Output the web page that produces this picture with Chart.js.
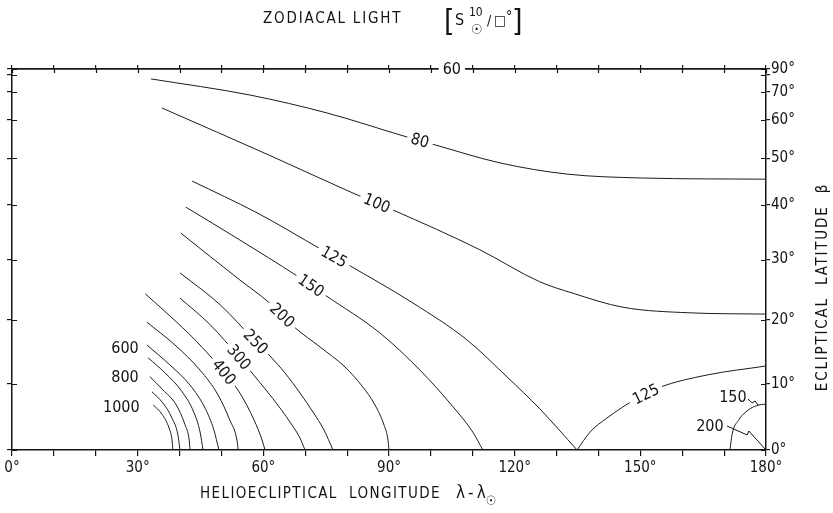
<!DOCTYPE html>
<html>
<head>
<meta charset="utf-8">
<title>Zodiacal light</title>
<style>
  html, body { margin: 0; padding: 0; background: #fff; }
  #wrap { width: 833px; height: 513px; }
</style>
<script src="https://cdn.jsdelivr.net/npm/chart.js@4/dist/chart.umd.min.js"></script>
</head>
<body>
<div id="wrap"><canvas id="c" width="833" height="513"></canvas></div>
<script>
// Isophotes of the zodiacal light, [longitude from sun (deg), ecliptic latitude (deg)]
const iso60   = [[0, 90], [180, 90]];
const iso80   = [[33.2, 76.9], [56.8, 68.7], [75.2, 62.2], [94.3, 55.24], [100.27, 53.43],
                 [116.5, 48.9], [132.5, 46.4], [150.6, 45.55], [180, 45.3]];
const iso100  = [[35.8, 63.85], [62.3, 50.3], [81.4, 42.4], [90.95, 39.05], [111.7, 31.7],
                 [126.0, 26.2], [133.9, 24.3], [145.9, 22.0], [161.9, 21.1], [180, 20.9]];
const iso125  = [[43.0, 44.9], [58.5, 38.5], [74.0, 31.7], [80.0, 29.2], [95.7, 22.7],
                 [108.6, 16.8], [118.2, 11.05], [126.0, 6.2], [134.9, 0]];
const iso125b = [[134.9, 0], [138.0, 2.7], [142.0, 4.8], [149.2, 7.8], [151.3, 8.45], [154.7, 9.5],
                 [165.9, 11.35], [180, 12.74]];
const iso150  = [[41.5, 39.6], [54.4, 33.45], [68.0, 27.2], [74.7, 24.0], [87.8, 17.9],
                 [97.4, 12.1], [105.3, 6.5], [110.0, 2.7], [112.4, 0]];
const iso150b = [[171.4, 0], [171.9, 2.36], [173.4, 4.46], [175.7, 6.0], [177.8, 6.69], [180, 6.93]];
const iso200  = [[40.3, 34.7], [54.4, 26.5], [61.2, 22.86], [67.6, 18.7], [73.53, 15.69], [79.5, 12.58],
                 [83.55, 9.67], [86.66, 6.78], [88.81, 3.76], [89.76, 1.5], [90.0, 0]];
const iso250  = [[40.1, 27.7], [49.7, 22.4], [58.2, 16.5], [61.59, 14.28], [65.17, 11.66], [68.75, 8.6],
                 [71.86, 5.72], [74.48, 3.01], [76.63, 0]];
const iso300  = [[40.1, 23.5], [47.3, 19.2], [54.2, 14.1], [57.29, 11.66], [60.64, 9.06], [63.98, 6.33],
                 [66.84, 3.76], [68.75, 1.8], [69.95, 0]];
const iso400  = [[31.8, 24.2], [37.7, 20.6], [43.7, 16.8], [50.6, 11.8], [54.4, 8.6], [57.8, 4.5],
                 [59.7, 1.5], [60.4, 0]];
const iso500  = [[32.2, 19.6], [38.9, 16.0], [44.9, 12.1], [49.2, 8.3], [52.0, 4.5], [53.7, 1.5], [54.0, 0]];
const iso600  = [[32.2, 16.0], [37.7, 12.9], [42.5, 9.8], [46.1, 6.3], [48.2, 3.0], [49.4, 0]];
const iso700  = [[32.5, 14.0], [36.5, 11.7], [40.6, 8.8], [43.4, 5.7], [44.9, 2.7], [45.6, 0]];
const iso800  = [[32.9, 11.1], [36.0, 9.1], [39.2, 6.8], [41.3, 3.8], [42.3, 1.5], [42.5, 0]];
const iso900  = [[33.4, 8.8], [36.0, 7.1], [38.2, 4.8], [39.6, 2.3], [40.1, 0]];
const iso1000 = [[33.7, 6.8], [35.8, 5.4], [37.5, 3.3], [38.2, 1.5], [38.4, 0]];

const contourLines  = [iso60, iso80, iso100, iso125, iso125b, iso150, iso150b, iso200, iso250,
                       iso300, iso400, iso500, iso600, iso700, iso800, iso900, iso1000];
const contourValues = [60, 80, 100, 125, 125, 150, 150, 200, 250, 300, 400, 500, 600, 700, 800, 900, 1000];
// longitudes at which each line carries its inline value label
const labelLons     = [[105], [97.4], [87.1], [76.9], [151.3], [71.4], [], [64.5], [58.2],
                       [54.2], [50.6], [], [], [], [], [], []];

// values written beside the lines (not inline)
const sideLabelText = ['600', '800', '1000', '150', '200'];
const sideLabelLon  = [26.97, 26.97, 26.1, 172.1, 166.6];
const sideLabelLat  = [15.5, 11.0, 6.5, 8.0, 3.6];
// short leader strokes from the "150" and "200" notes
const leader150 = [[175.7, 7.69], [176.7, 7.09], [177.4, 7.39], [178.1, 6.78]];
const leader200 = [[170.7, 3.61], [175.5, 2.26], [175.9, 2.86], [180, 0]];

const lonTicks = [0, 10, 20, 30, 40, 50, 60, 70, 80, 90, 100, 110, 120, 130, 140, 150, 160, 170, 180];
const latTicks = [0, 10, 20, 30, 40, 50, 60, 70, 80, 90];

const FONT = "'DejaVu Sans Condensed','Liberation Sans Narrow','DejaVu Sans',sans-serif";
const INK = '#141414';
const rad = d => d * Math.PI / 180;
// the latitude axis is linear in sin(beta)
const toPoint = ([lon, lat]) => ({ x: lon, y: Math.sin(rad(lat)) });

const datasets = contourLines.map((pts, i) => ({
  label: String(contourValues[i]),
  data: pts.map(toPoint),
  showLine: true,
  borderColor: '#1c1c1c',
  borderWidth: 1,
  pointRadius: 0,
  fill: false,
  cubicInterpolationMode: 'monotone',
  clip: i === 0 ? false : 2
}));

function pointOnLine(els, px) {
  for (let k = 0; k < els.length - 1; k++) {
    const a = els[k], b = els[k + 1];
    if ((px >= a.x && px <= b.x) || (px <= a.x && px >= b.x)) {
      const t = b.x === a.x ? 0 : (px - a.x) / (b.x - a.x);
      return { x: px, y: a.y + t * (b.y - a.y) };
    }
  }
  return null;
}

const decorPlugin = {
  id: 'decor',
  afterDatasetsDraw(chart) {
    const ctx = chart.ctx;
    const ca = chart.chartArea;
    const sx = chart.scales.x, sy = chart.scales.y;
    ctx.save();
    ctx.strokeStyle = INK;
    ctx.lineWidth = 1.2;
    // inner halves of the crossing tick marks on top, left and right frame
    ctx.beginPath();
    lonTicks.forEach(v => {
      const px = Math.round(sx.getPixelForValue(v)) + 0.5;
      ctx.moveTo(px, ca.top); ctx.lineTo(px, ca.top + 4);
    });
    latTicks.forEach(b => {
      const py = Math.round(sy.getPixelForValue(Math.sin(rad(b)))) + 0.5;
      ctx.moveTo(ca.left, py); ctx.lineTo(ca.left + 5, py);
      ctx.moveTo(ca.right - 5, py); ctx.lineTo(ca.right, py);
    });
    ctx.stroke();

    // inline value labels
    ctx.font = '16px ' + FONT;
    ctx.textAlign = 'center';
    ctx.textBaseline = 'middle';
    contourLines.forEach((pts, i) => {
      const els = chart.getDatasetMeta(i).data;
      labelLons[i].forEach(lon => {
        const px = sx.getPixelForValue(lon);
        const p = pointOnLine(els, px);
        if (!p) return;
        const p1 = pointOnLine(els, px - 6) || p;
        const p2 = pointOnLine(els, px + 6) || p;
        let ang = Math.atan2(p2.y - p1.y, p2.x - p1.x);
        if (i === 0) ang = 0;
        const txt = String(contourValues[i]);
        const w = ctx.measureText(txt).width;
        ctx.save();
        ctx.translate(p.x, p.y);
        ctx.rotate(ang);
        ctx.fillStyle = '#fff';
        ctx.fillRect(-w / 2 - 4, -7, w + 8, 14);
        ctx.fillStyle = INK;
        ctx.fillText(txt, 0, 1);
        ctx.restore();
      });
    });

    // side labels
    sideLabelText.forEach((t, k) => {
      const px = sx.getPixelForValue(sideLabelLon[k]);
      const py = sy.getPixelForValue(Math.sin(rad(sideLabelLat[k])));
      ctx.fillStyle = INK;
      ctx.fillText(t, px, py + 1);
    });
    // leaders
    ctx.lineWidth = 1;
    [leader150, leader200].forEach(pts => {
      ctx.beginPath();
      pts.forEach(([lo, la], k) => {
        const px = sx.getPixelForValue(lo), py = sy.getPixelForValue(Math.sin(rad(la)));
        if (k === 0) ctx.moveTo(px, py); else ctx.lineTo(px, py);
      });
      ctx.stroke();
    });
    ctx.restore();
  },
  afterDraw(chart) {
    const ctx = chart.ctx;
    ctx.save();
    ctx.fillStyle = INK;
    ctx.textBaseline = 'alphabetic';
    ctx.textAlign = 'left';
    // heading
    ctx.font = '15px ' + FONT;
    ctx.letterSpacing = '1.8px';
    ctx.fillText('ZODIACAL LIGHT', 263, 23);
    ctx.letterSpacing = '0px';
    ctx.font = '30px ' + FONT;
    ctx.fillText('[', 444, 31);
    ctx.fillText(']', 512, 31);
    ctx.font = '16px ' + FONT;
    ctx.fillText('S', 455, 25);
    ctx.font = '12px ' + FONT;
    ctx.fillText('10', 469, 16);
    ctx.font = '14px ' + FONT;
    ctx.fillText('\u2609', 471, 34);
    ctx.font = '14px ' + FONT;
    ctx.fillText('/', 487, 25);
    ctx.fillText('\u25A1', 494, 25);
    ctx.fillText('\u00B0', 506, 21);

    // x-axis title
    ctx.font = '15px ' + FONT;
    ctx.letterSpacing = '1.4px';
    ctx.fillText('HELIOECLIPTICAL  LONGITUDE', 200, 498);
    ctx.letterSpacing = '0px';
    ctx.font = '17px ' + FONT;
    const lam = '\u03BB\u2009-\u2009\u03BB';
    ctx.fillText(lam, 456, 498);
    const lw = ctx.measureText(lam).width;
    ctx.font = '13px ' + FONT;
    ctx.fillText('\u2609', 456 + lw, 505);

    // right-hand axis title, reading upwards
    ctx.translate(823, 287);
    ctx.rotate(-Math.PI / 2);
    ctx.textAlign = 'center';
    ctx.textBaseline = 'middle';
    ctx.font = '15px ' + FONT;
    ctx.letterSpacing = '1.8px';
    ctx.fillText('ECLIPTICAL  LATITUDE  \u03B2', 0, 0);
    ctx.restore();
  }
};

const tickFont = { size: 15, family: FONT };

new Chart(document.getElementById('c'), {
  type: 'scatter',
  data: { datasets },
  options: {
    responsive: false,
    animation: false,
    events: [],
    layout: { padding: 0 },
    plugins: { legend: { display: false }, tooltip: { enabled: false }, title: { display: false } },
    scales: {
      x: {
        type: 'linear', position: 'bottom', min: 0, max: 180,
        afterBuildTicks: s => { s.ticks = lonTicks.map(v => ({ value: v })); },
        afterFit: s => { s.height = 63; },
        ticks: { callback: v => (v % 30 === 0 ? v + '\u00B0' : ''), autoSkip: false, maxRotation: 0,
                 font: tickFont, color: INK, padding: 3 },
        grid: { drawOnChartArea: false, drawTicks: true, tickLength: 6, color: INK, lineWidth: 1.2 },
        border: { display: true, color: INK, width: 1.5 }
      },
      x2: {
        type: 'linear', position: 'top', min: 0, max: 180,
        afterBuildTicks: s => { s.ticks = lonTicks.map(v => ({ value: v })); },
        afterFit: s => { s.height = 69; },
        ticks: { display: false },
        grid: { drawOnChartArea: false, drawTicks: true, tickLength: 4, color: INK, lineWidth: 1.2 },
        border: { display: true, color: INK, width: 1.5 }
      },
      yL: {
        type: 'linear', position: 'left', min: 0, max: 1,
        afterBuildTicks: s => { s.ticks = latTicks.map(b => ({ value: Math.sin(rad(b)) })); },
        afterFit: s => { s.width = 12; },
        ticks: { display: false },
        grid: { drawOnChartArea: false, drawTicks: true, tickLength: 5, color: INK, lineWidth: 1.2 },
        border: { display: true, color: INK, width: 1.5 }
      },
      y: {
        type: 'linear', position: 'right', min: 0, max: 1,
        afterBuildTicks: s => { s.ticks = latTicks.map(b => ({ value: Math.sin(rad(b)) })); },
        afterFit: s => { s.width = 67; },
        ticks: { callback: (v, i) => (latTicks[i] === 80 ? '' : latTicks[i] + '\u00B0'), autoSkip: false,
                 font: tickFont, color: INK, padding: 1 },
        grid: { drawOnChartArea: false, drawTicks: true, tickLength: 4, color: INK, lineWidth: 1.2 },
        border: { display: true, color: INK, width: 1.5 }
      }
    }
  },
  plugins: [decorPlugin]
});
</script>
</body>
</html>
